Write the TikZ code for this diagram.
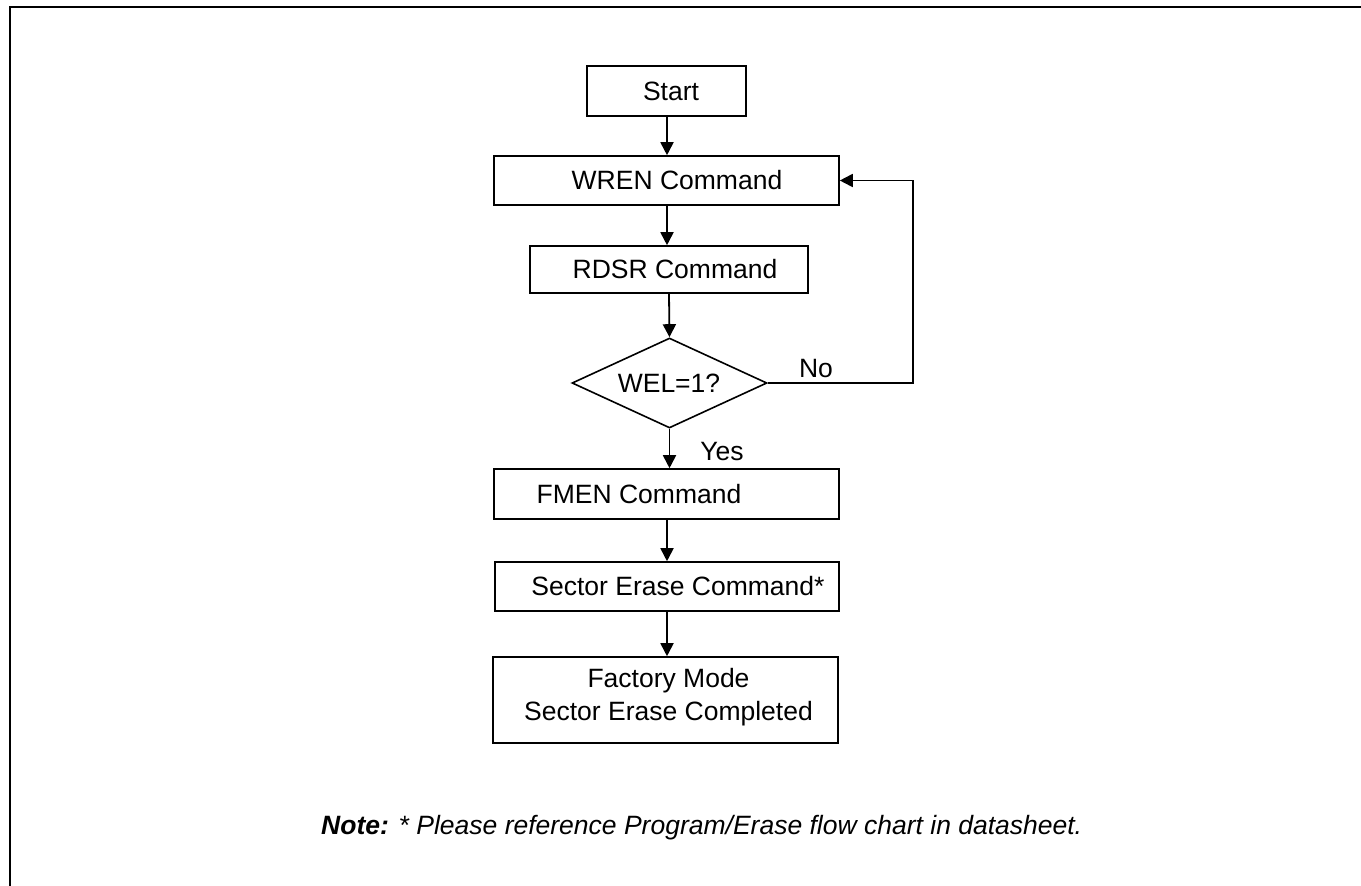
\documentclass[tikz,border=0pt]{standalone}
\usepackage{fontspec}
\setmainfont{Liberation Sans}
\usetikzlibrary{arrows.meta,shapes.geometric}
\begin{document}
\begin{tikzpicture}[x=1pt,y=-1pt,
  boxnode/.style={draw, line width=1.6pt, rectangle, inner sep=0pt},
  decnode/.style={draw, line width=1.6pt, diamond, inner sep=0pt},
  txt/.style={font=\fontsize{26.5}{33}\selectfont, inner sep=0pt, align=center},
  flow/.style={line width=1.8pt, -{Triangle[length=13pt,width=13pt]}},
  frameline/.style={line width=2pt}]
\useasboundingbox (0,0) rectangle (1361,886);
\draw[frameline] (10,886) -- (10,7) -- (1361,7);

\node[boxnode, minimum width=159pt, minimum height=50pt] (start) at (666.5,91) {};
\node[boxnode, minimum width=345pt, minimum height=49pt] (wren) at (666.5,180.5) {};
\node[boxnode, minimum width=278pt, minimum height=47pt] (rdsr) at (669,269.5) {};
\node[decnode, minimum width=195pt, minimum height=90pt] (wel) at (669.5,383) {};
\node[boxnode, minimum width=345pt, minimum height=50pt] (fmen) at (666.5,494) {};
\node[boxnode, minimum width=344pt, minimum height=49pt] (sector) at (667,586.5) {};
\node[boxnode, minimum width=345pt, minimum height=86pt] (factory) at (665.5,700) {};

\node[txt] (startt) at (671,91) {Start};
\node[txt] (wrent) at (677,180.5) {WREN Command};
\node[txt] (rdsrt) at (675,269.5) {RDSR Command};
\node[txt] (welt) at (669,383) {WEL=1?};
\node[txt] (fment) at (639,494) {FMEN Command};
\node[txt] (sectort) at (678,586.5) {Sector Erase Command*};
\node[txt] (factoryt) at (668.5,697) {Factory Mode\\Sector Erase Completed};

\draw[flow] (start.south -| 667,0) -- (wren.north -| 667,0);
\draw[flow] (wren.south -| 667,0) -- (rdsr.north -| 667,0);
\draw[flow] (rdsr.south -| 669,0) -- (wel.north);
\draw[flow] (wel.south) -- (fmen.north -| wel.south);
\draw[flow] (fmen.south -| 667,0) -- (sector.north -| 667,0);
\draw[flow] (sector.south -| 667,0) -- (factory.north -| 667,0);
\coordinate (loopb) at (913,383);
\coordinate (loopt) at (913,180.5);
\draw[flow] (wel.east) -- (loopb) -- (loopt) -- (wren.east);

\node[txt] (nolab) at (816,369) {No};
\node[txt] (yeslab) at (722,452) {Yes};

\node[txt, anchor=west] (note) at (321,828) {\textbf{\textit{Note:}} \textit{* Please reference Program/Erase flow chart in datasheet.}};
\end{tikzpicture}
\end{document}
